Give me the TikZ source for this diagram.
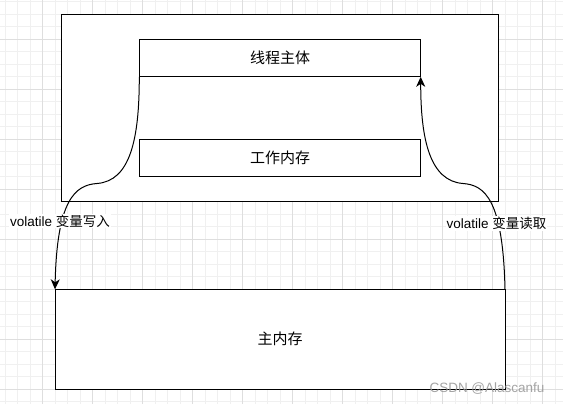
\documentclass[tikz,border=0pt]{standalone}
\usepackage{fontspec}
\setmainfont{Liberation Sans}
\newfontfamily\cjk{Noto Sans CJK SC}
\usetikzlibrary{arrows.meta,calc}
\definecolor{gridminor}{HTML}{F0F0F0}
\definecolor{gridmajor}{HTML}{DEDEDE}
\definecolor{wmark}{HTML}{9A9A9A}
\tikzset{
  box/.style={draw=black, line width=1pt, fill=white},
  boxtext/.style={font=\cjk\fontsize{15}{18}\selectfont, inner sep=0pt},
  edgelabel/.style={fill=white, inner sep=1pt, font=\fontsize{13.5}{16}\selectfont},
  flow/.style={draw=black, line width=1pt, -{Stealth[length=10pt,width=9pt,inset=3pt]}},
}
\begin{document}
\begin{tikzpicture}[x=1pt,y=-1pt]
\useasboundingbox (0,0) rectangle (563,404);
% grid
\foreach \k in {0,...,44} {
  \draw[gridminor, line width=1pt] ({5+12.5*\k},0) -- ({5+12.5*\k},404);
}
\foreach \k in {0,...,32} {
  \draw[gridminor, line width=1pt] (0,{1.8+12.5*\k}) -- (563,{1.8+12.5*\k});
}
\foreach \k in {0,...,10} {
  \draw[gridmajor, line width=1pt] ({42.5+50*\k},0) -- ({42.5+50*\k},404);
}
\foreach \k in {0,...,7} {
  \draw[gridmajor, line width=1pt] (0,{39.3+50*\k}) -- (563,{39.3+50*\k});
}
% outer thread rectangle
\node[box, minimum width=437pt, minimum height=187.5pt, inner sep=0pt] (outer) at (280,108) {};
% inner boxes
\node[box, minimum width=281.4pt, minimum height=37.5pt, inner sep=0pt] (body) at (280,58.05) {};
\node[boxtext] at (body.center) {线程主体};
\node[box, minimum width=281.4pt, minimum height=37.5pt, inner sep=0pt] (work) at (280,158.05) {};
\node[boxtext] at (work.center) {工作内存};
% main memory
\node[box, minimum width=450pt, minimum height=100pt, inner sep=0pt] (main) at (280,339.3) {};
\node[boxtext] at (main.center) {主内存};
% waypoints
\coordinate (lw) at (97,183.5);
\coordinate (rw) at (463,183.5);
\coordinate (mainL) at (55,289.3);
\coordinate (mainR) at (505,289.3);
\coordinate (bl) at (139.3,76.8);
\coordinate (br) at (420.7,76.8);
% write curve
\draw[flow] (bl) .. controls (139.3,140) and (130,181) .. (lw)
  .. controls (75,185) and (57,200) .. (mainL);
% read curve
\draw[flow] (mainR) .. controls (503,200) and (485,185) .. (rw)
  .. controls (430,181) and (420.7,140) .. (br);
% labels
\node[edgelabel] (wl) at (60,221) {volatile {\cjk 变量写入}};
\node[edgelabel] (rl) at (496.5,223.5) {volatile {\cjk 变量读取}};
% watermark
\node[text=wmark, opacity=0.9, inner sep=0pt, font=\fontsize{13.5}{16}\selectfont] (wm) at (487,389) {CSDN @Alascanfu};
\end{tikzpicture}
\end{document}
